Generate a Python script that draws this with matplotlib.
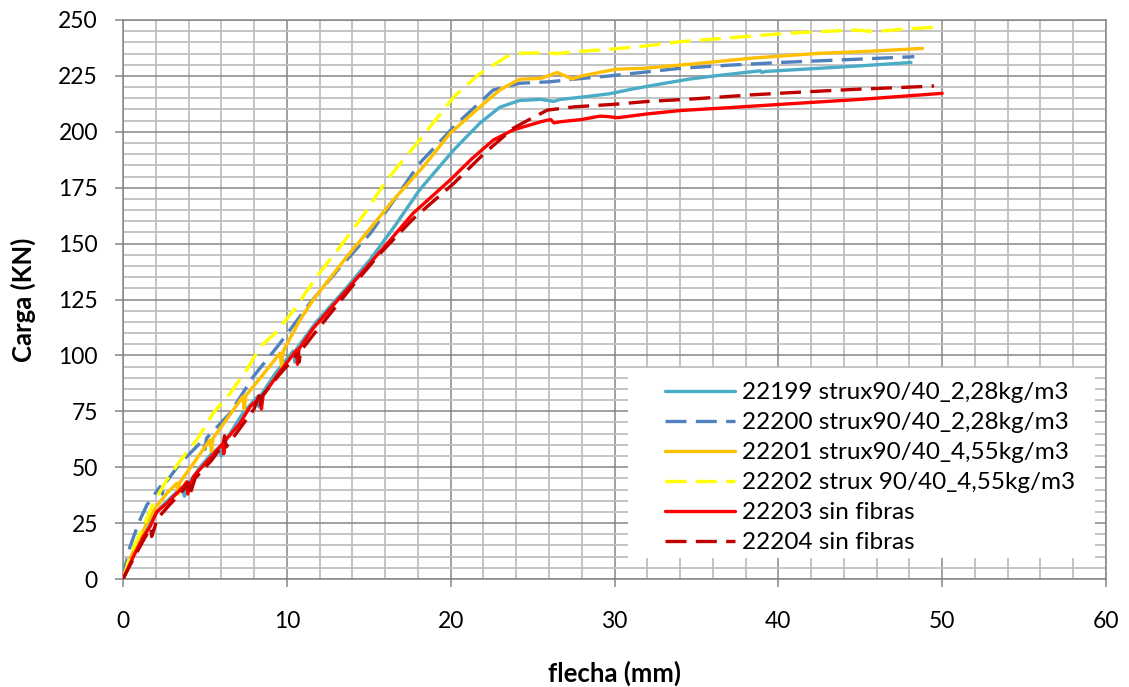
import matplotlib
matplotlib.use("Agg")
import matplotlib.pyplot as plt
from matplotlib.ticker import MultipleLocator
from matplotlib.patches import Rectangle

plt.rcParams['font.family'] = ['Lato', 'DejaVu Sans']

# ---- data ----
labels = [
    "22199 strux90/40_2,28kg/m3",
    "22200 strux90/40_2,28kg/m3",
    "22201 strux90/40_4,55kg/m3",
    "22202 strux 90/40_4,55kg/m3",
    "22203 sin fibras",
    "22204 sin fibras",
]

x_22199 = [0, 0.6, 1.2, 1.7, 2.3, 3.0, 3.6, 3.75, 3.85, 4.7, 5.4, 5.9, 6.0, 6.1, 7.3, 8.2, 8.3, 8.4,
           9.3, 10.4, 10.5, 10.6, 11.8, 13.5, 15.1, 16.6, 18.1, 20.2, 21.8, 23.0, 24.2, 25.5, 26.3,
           26.7, 28.0, 29.7, 31.0, 32.9, 34.5, 36.1, 38.9, 39.0, 39.2, 42.5, 45.0, 48.1]
y_22199 = [0, 10, 20, 26, 32, 37, 41, 37, 41, 50, 56, 59, 55, 60, 74, 81.5, 77, 82,
           92, 102, 97, 103, 115, 129, 143, 158, 174, 192, 204, 211, 214, 214.5, 213.6,
           214.5, 215.5, 217, 219, 221.5, 223.5, 225, 227.3, 226.5, 227, 228.4, 229.5, 231]

x_22200 = [0, 0.1, 0.43, 0.94, 1.45, 2.26, 2.4, 2.5, 3.48, 4.9, 5.0, 5.1, 6.53, 7.95, 9.58, 11.4, 13.2,
           15.1, 16.6, 18.1, 20.4, 22.6, 24.2, 26.1, 27.5, 29.7, 32, 34.0, 37, 40.4, 44, 48.3]
y_22200 = [0, 4.5, 14.4, 24.9, 33, 41.3, 38, 42, 51.7, 62.2, 58, 63, 74.1, 90.5, 105.4, 123.3, 139,
           154.6, 170, 185.9, 203.8, 218.7, 221.7, 222.4, 223.5, 225, 226.8, 228.4, 229.8, 231.1, 232.2, 233.6]

x_22201 = [0, 0.6, 1.45, 2.0, 2.67, 3.28, 3.35, 3.45, 4.3, 5.3, 5.4, 5.5, 6.3, 7.3, 7.4, 7.5, 8.5,
           9.58, 9.68, 9.78, 10.8, 11.6, 13.66, 15.0, 16.5, 18.33, 19.96, 21.8, 23.0, 24.2, 25.5,
           26.5, 27.0, 27.4, 28.0, 30.1, 31.8, 35, 38.3, 42.5, 45.5, 48.8]
y_22201 = [0, 12, 24.9, 32, 38.3, 42.8, 38, 43, 51.7, 62.2, 57, 63, 71.1, 81.5, 76, 82, 91,
           101, 95, 102, 115.8, 124.8, 144.1, 156, 169.5, 184.4, 199.3, 211.2, 218.7, 223.5, 223.9,
           226.5, 225, 223.6, 225, 228, 228.4, 230.5, 232.9, 235.1, 236, 237.3]

x_22202 = [0, 0.5, 1.24, 1.85, 2.67, 3.5, 4.5, 5.5, 6.53, 7.5, 8.4, 9.3, 10.4, 11.8, 13.25, 14.7,
           16.1, 18.1, 20.2, 21.8, 23.1, 23.4, 24.2, 25.9, 26.4, 27.5, 29.7, 32, 34.0, 37, 40.4,
           42.5, 44.7, 45.9, 47.5, 49.4, 50]
y_22202 = [0, 12, 23.4, 33.8, 44.3, 53, 62.2, 74.1, 83, 93, 104, 110, 120, 135, 148.6, 163,
           178.4, 196.3, 215.7, 226.2, 232.1, 233.6, 235.1, 235.4, 234.9, 235.8, 236.9, 238.5, 240.3, 242, 244,
           244.8, 245.5, 244.8, 245.8, 246.7, 247]

x_22203 = [0, 0.63, 1.24, 1.65, 2.06, 2.67, 3.68, 3.9, 3.95, 4.3, 5.3, 6.1, 6.15, 6.25, 7.14, 7.75,
           8.4, 8.45, 8.55, 9.5, 10.6, 10.65, 10.75, 11.6, 12.4, 14.9, 16.3, 17.7, 19.96, 21.3, 22.6,
           23.8, 25.5, 26.1, 26.3, 26.7, 28.0, 29.1, 29.6, 30.2, 32, 34.0, 37, 40.4, 45, 50.0]
y_22203 = [0, 10, 18.9, 23.4, 30.1, 33.8, 41.3, 43.5, 38, 45.8, 54, 60.7, 56, 62, 69.6, 77,
           81.5, 76, 82, 92, 102.4, 96, 103, 112, 118.8, 139.7, 151.5, 163.5, 178.4, 188, 196.3,
           200.8, 204.5, 205.5, 204, 204.5, 205.5, 207, 206.8, 206.3, 208, 209.5, 210.8, 212.4, 214.5, 217.2]

x_22204 = [0, 0.63, 1.3, 1.7, 1.75, 2.1, 2.7, 3.7, 4.0, 4.05, 4.4, 5.4, 6.1, 6.2, 6.3, 7.2, 8.0,
           8.3, 8.35, 8.5, 9.5, 10.7, 10.75, 10.85, 11.7, 12.5, 14.0, 15.7, 17.7, 20.2, 22.0, 23.8,
           24.8, 25.9, 27.6, 30, 31.9, 35, 38.3, 41.5, 44.7, 48.7, 49.5]
y_22204 = [0, 9, 18, 23, 19, 27, 32, 40, 43, 37, 45, 53, 60, 64, 59, 68, 76,
           82, 77, 82, 91, 101, 97, 102, 110, 117.3, 131, 145.6, 161, 177, 190, 201.5,
           205.5, 209.7, 211.2, 212.3, 213.5, 214.8, 216.5, 217.8, 219, 220.2, 220.5]

xs = [x_22199, x_22200, x_22201, x_22202, x_22203, x_22204]
ys = [y_22199, y_22200, y_22201, y_22202, y_22203, y_22204]
colors = ["#4BACC6", "#4F81BD", "#FFC000", "#FFFF00", "#FF0000", "#C00000"]
dashed = [False, True, False, True, False, True]

x_ticks = [0, 10, 20, 30, 40, 50, 60]
y_ticks = [0, 25, 50, 75, 100, 125, 150, 175, 200, 225, 250]

W, H = 1129, 687
L, R, T, B = 123, 1106, 20, 579

# ---- figure ----
fig = plt.figure(figsize=(W / 100, H / 100), dpi=100)
ax = fig.add_axes([L / W, 1 - B / H, (R - L) / W, (B - T) / H])

ax.set_xlim(0, 60)
ax.set_ylim(0, 250)
ax.set_xticks(x_ticks)
ax.set_yticks(y_ticks)
ax.xaxis.set_minor_locator(MultipleLocator(2))
ax.yaxis.set_minor_locator(MultipleLocator(5))
ax.grid(which='minor', color='#BFBFBF', linewidth=1.3, zorder=0)
ax.grid(which='major', color='#868686', linewidth=1.1, zorder=0)
ax.set_axisbelow(True)
ax.tick_params(which='minor', length=0)
ax.tick_params(which='major', direction='out', length=6, width=1.1, color='#868686',
               labelsize=16.5, labelcolor='black')
ax.tick_params(axis='x', pad=17)
ax.tick_params(axis='y', pad=12)
for s in ax.spines.values():
    s.set_color('#868686')
    s.set_linewidth(1.1)

handles = []
for x, y, c, d, lab in zip(xs, ys, colors, dashed, labels):
    ln, = ax.plot(x, y, color=c, linewidth=2.4, label=lab, zorder=3,
                  solid_joinstyle='round', solid_capstyle='round')
    if d:
        ln.set_dashes((6.3, 2.8))
        ln.set_dash_capstyle('butt')
    handles.append(ln)

ax.set_xlabel("flecha (mm)", fontsize=18.5, fontweight='bold', labelpad=21)
ax.set_ylabel("Carga (KN)", fontsize=18.5, fontweight='bold', labelpad=16)

# legend background box
def fx(px):
    return (px - L) / (R - L)

def fy(py):
    return (B - py) / (B - T)

ax.add_patch(Rectangle((fx(628), fy(558)), fx(1095) - fx(628), fy(368) - fy(558),
                       transform=ax.transAxes, facecolor='white', edgecolor='none', zorder=4))

leg = ax.legend(handles=handles, loc='upper left', bbox_to_anchor=(fx(665), fy(382)),
                borderaxespad=0, borderpad=0, fontsize=17.5, frameon=False,
                handlelength=2.88, handletextpad=0.28, labelspacing=0.37)
leg.set_zorder(5)

fig.savefig("out.png", dpi=100)
